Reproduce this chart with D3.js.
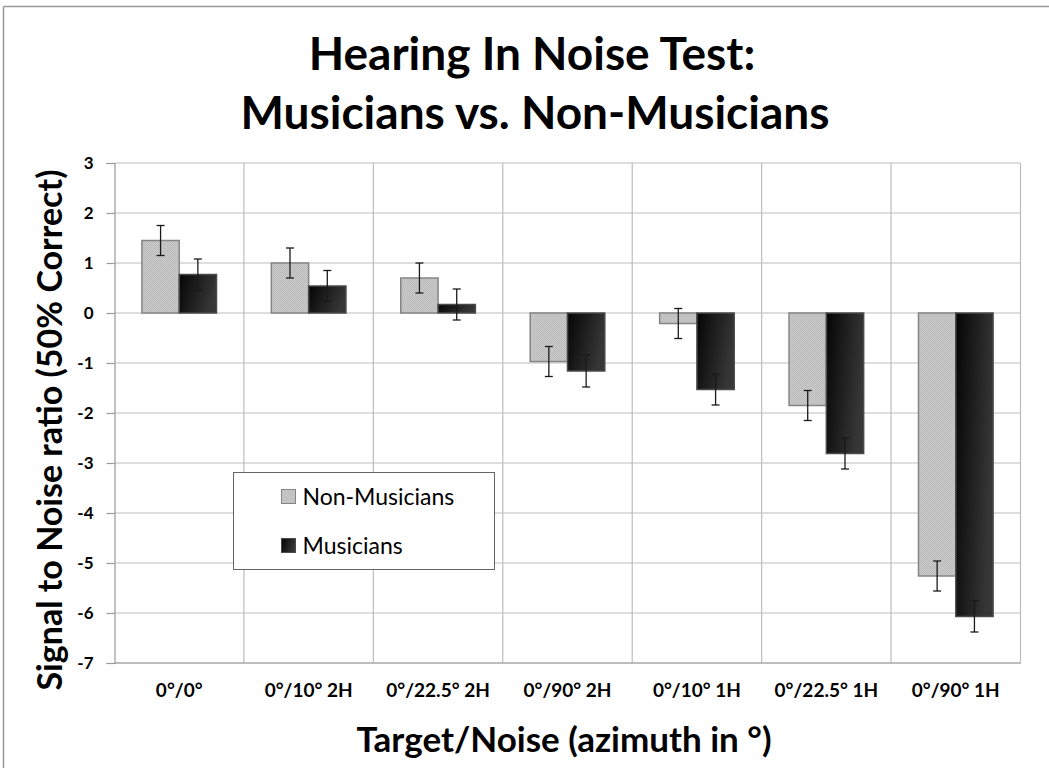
<!DOCTYPE html>
<html>
<head>
<meta charset="utf-8">
<script src="https://cdn.jsdelivr.net/npm/d3@7"></script>
<style>
  body { margin: 0; background: #fff; }
  text { font-family: Lato, "Open Sans", sans-serif; }
</style>
</head>
<body>
<script>
const categories = ['0°/0°', '0°/10° 2H', '0°/22.5° 2H', '0°/90° 2H', '0°/10° 1H', '0°/22.5° 1H', '0°/90° 1H']
const seriesNames = ['Non-Musicians', 'Musicians']
const nonMusicians = [1.45, 1.0, 0.7, -0.97, -0.21, -1.85, -5.26]
const musicians = [0.77, 0.54, 0.17, -1.16, -1.53, -2.81, -6.07]
const nonMusiciansErr = [0.3, 0.3, 0.3, 0.3, 0.3, 0.3, 0.3]
const musiciansErr = [0.31, 0.31, 0.31, 0.32, 0.31, 0.31, 0.31]
const yTicks = [3, 2, 1, 0, -1, -2, -3, -4, -5, -6, -7]

const width = 1049
const height = 768
const plot = { left: 114.5, right: 1020.5, top: 163, bottom: 663 }

const svg = d3.select('body').append('svg')
  .attr('width', width)
  .attr('height', height)

const defs = svg.append('defs')

// fine checker stipple for the light bars
const pat = defs.append('pattern')
  .attr('id', 'dots')
  .attr('width', 2)
  .attr('height', 2)
  .attr('patternUnits', 'userSpaceOnUse')
pat.append('rect').attr('width', 2).attr('height', 2).attr('fill', '#cbcbcb')
pat.append('rect').attr('x', 0).attr('y', 0).attr('width', 1).attr('height', 1).attr('fill', '#bababa')
pat.append('rect').attr('x', 1).attr('y', 1).attr('width', 1).attr('height', 1).attr('fill', '#bababa')

const grad = defs.append('linearGradient')
  .attr('id', 'dark')
  .attr('x1', '0%').attr('y1', '0%')
  .attr('x2', '100%').attr('y2', '30%')
grad.append('stop').attr('offset', '0%').attr('stop-color', '#050505')
grad.append('stop').attr('offset', '100%').attr('stop-color', '#363636')

// outer frame (only top and left visible)
svg.append('line')
  .attr('x1', 3.5).attr('x2', width).attr('y1', 6.5).attr('y2', 6.5)
  .attr('stroke', '#999').attr('stroke-width', 1.5)
svg.append('line')
  .attr('x1', 3.5).attr('x2', 3.5).attr('y1', 6.5).attr('y2', height)
  .attr('stroke', '#999').attr('stroke-width', 1.5)

const xScale = d3.scaleBand()
  .domain(categories)
  .range([plot.left, plot.right])
  .paddingInner(0)
  .paddingOuter(0)

const xSeries = d3.scaleBand()
  .domain(seriesNames)
  .range([0, xScale.bandwidth()])
  .paddingInner(0)
  .paddingOuter(0.735)

const yScale = d3.scaleLinear()
  .domain([-7, 3])
  .range([plot.bottom, plot.top])

// grid
svg.append('g')
  .selectAll('line')
  .data(yTicks)
  .join('line')
  .attr('x1', plot.left)
  .attr('x2', plot.right)
  .attr('y1', d => yScale(d))
  .attr('y2', d => yScale(d))
  .attr('stroke', '#bdbdbd')
  .attr('stroke-width', 1.2)

const bounds = categories.map(c => xScale(c)).concat([plot.right])
svg.append('g')
  .selectAll('line')
  .data(bounds.slice(1))
  .join('line')
  .attr('x1', d => d)
  .attr('x2', d => d)
  .attr('y1', plot.top)
  .attr('y2', plot.bottom)
  .attr('stroke', '#bdbdbd')
  .attr('stroke-width', 1.2)

// y axis
const yAxis = svg.append('g')
  .attr('transform', `translate(${plot.left},0)`)
  .call(d3.axisLeft(yScale).tickValues(yTicks).tickSize(8).tickPadding(13).tickFormat(d => String(d)))
yAxis.select('.domain').attr('stroke', '#999').attr('stroke-width', 1.2)
yAxis.selectAll('.tick line').attr('stroke', '#999').attr('stroke-width', 1.2)
yAxis.selectAll('.tick text')
  .attr('fill', '#000')
  .style('font-size', '17px')
  .style('font-weight', 'bold')
  .style('font-family', 'Lato, sans-serif')

// bottom axis line
svg.append('line')
  .attr('x1', plot.left).attr('x2', plot.right)
  .attr('y1', plot.bottom).attr('y2', plot.bottom)
  .attr('stroke', '#999').attr('stroke-width', 1.2)

// bars
const series = [
  { name: 'Non-Musicians', values: nonMusicians, err: nonMusiciansErr, fill: 'url(#dots)', stroke: '#858585' },
  { name: 'Musicians', values: musicians, err: musiciansErr, fill: 'url(#dark)', stroke: '#4a4a4a' }
]

series.forEach(s => {
  const g = svg.append('g')
  const rows = categories.map((c, i) => ({ c, v: s.values[i], e: s.err[i] }))

  g.selectAll('rect')
    .data(rows)
    .join('rect')
    .attr('x', d => xScale(d.c) + xSeries(s.name))
    .attr('width', xSeries.bandwidth())
    .attr('y', d => yScale(Math.max(0, d.v)))
    .attr('height', d => Math.abs(yScale(d.v) - yScale(0)))
    .attr('fill', s.fill)
    .attr('stroke', s.stroke)
    .attr('stroke-width', 1.5)

  const cx = d => xScale(d.c) + xSeries(s.name) + xSeries.bandwidth() / 2
  const eb = g.selectAll('.err')
    .data(rows)
    .join('g')
    .attr('class', 'err')
    .attr('stroke', '#1a1a1a')
    .attr('stroke-width', 1.3)
  eb.append('line')
    .attr('x1', cx).attr('x2', cx)
    .attr('y1', d => yScale(d.v + d.e))
    .attr('y2', d => yScale(d.v - d.e))
  eb.append('line')
    .attr('x1', d => cx(d) - 4).attr('x2', d => cx(d) + 4)
    .attr('y1', d => yScale(d.v + d.e))
    .attr('y2', d => yScale(d.v + d.e))
  eb.append('line')
    .attr('x1', d => cx(d) - 4).attr('x2', d => cx(d) + 4)
    .attr('y1', d => yScale(d.v - d.e))
    .attr('y2', d => yScale(d.v - d.e))
})

// x labels
svg.append('g')
  .selectAll('text')
  .data(categories)
  .join('text')
  .attr('x', d => xScale(d) + xScale.bandwidth() / 2)
  .attr('y', 697)
  .attr('text-anchor', 'middle')
  .style('font-size', '19px')
  .style('font-weight', 'bold')
  .text(d => d)

// titles
svg.append('text')
  .attr('x', 532).attr('y', 70)
  .attr('text-anchor', 'middle')
  .style('font-size', '46px').style('font-weight', 'bold')
  .text('Hearing In Noise Test:')
svg.append('text')
  .attr('x', 535).attr('y', 129)
  .attr('text-anchor', 'middle')
  .style('font-size', '46px').style('font-weight', 'bold')
  .text('Musicians vs. Non-Musicians')

svg.append('text')
  .attr('x', 564).attr('y', 752)
  .attr('text-anchor', 'middle')
  .style('font-size', '35px').style('font-weight', 'bold')
  .text('Target/Noise (azimuth in °)')

svg.append('text')
  .attr('transform', 'translate(62,430) rotate(-90)')
  .attr('text-anchor', 'middle')
  .style('font-size', '34px').style('font-weight', 'bold')
  .text('Signal to Noise ratio (50% Correct)')

// legend
const legend = svg.append('g').attr('transform', 'translate(233.5,472.5)')
legend.append('rect')
  .attr('width', 261).attr('height', 97)
  .attr('fill', '#fff')
  .attr('stroke', '#666').attr('stroke-width', 1)

const legendY = d3.scalePoint().domain(seriesNames).range([24, 73])
legend.selectAll('.item')
  .data(series)
  .join('g')
  .attr('class', 'item')
  .attr('transform', d => `translate(48,${legendY(d.name)})`)
  .each(function (d) {
    const g = d3.select(this)
    g.append('rect')
      .attr('x', 0).attr('y', -7)
      .attr('width', 14).attr('height', 14)
      .attr('fill', d.fill)
      .attr('stroke', d.stroke).attr('stroke-width', 1)
    g.append('text')
      .attr('x', 21).attr('y', 8)
      .style('font-size', '23px')
      .text(d.name)
  })
</script>
</body>
</html>
